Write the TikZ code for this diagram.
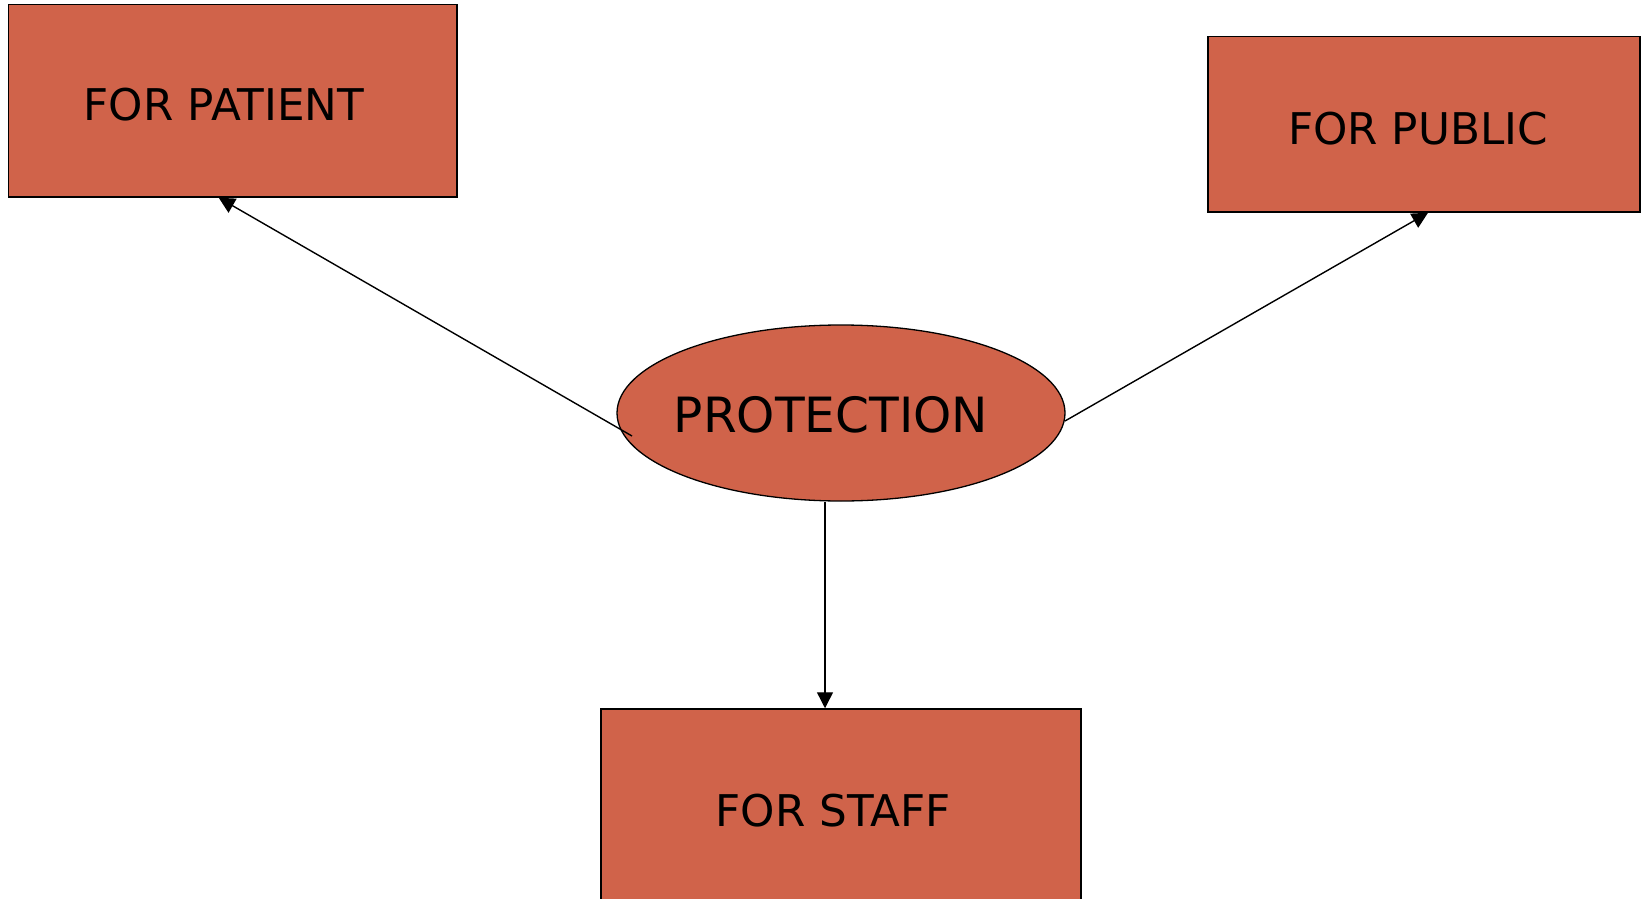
\documentclass[tikz,border=0pt]{standalone}
\usepackage{fontspec}
\setmainfont{DejaVu Sans}
\usetikzlibrary{shapes.geometric,arrows.meta,calc}
\definecolor{boxfill}{RGB}{208,99,74}
\begin{document}
\begin{tikzpicture}[x=1pt,y=-1pt,
  box/.style={draw=black,line width=1.5pt,fill=boxfill,rectangle,inner sep=0pt},
  oval/.style={draw=black,line width=1.3pt,fill=boxfill,ellipse,inner sep=0pt},
  lbl/.style={anchor=base,inner sep=0pt,font=\fontsize{43.7}{50}\selectfont},
  biglbl/.style={anchor=base,inner sep=0pt,font=\fontsize{48.6}{56}\selectfont},
  conn/.style={line width=1.4pt,-{Triangle[length=16pt,width=16pt]}}]
\useasboundingbox (0,0) rectangle (1641,899);
\node[box,minimum width=448.5pt,minimum height=192.5pt] (pat) at (232.75,100.75) {};
\node[box,minimum width=432pt,minimum height=175.3pt] (pub) at (1424,124.35) {};
\node[oval,minimum width=448pt,minimum height=176pt] (prot) at (841,413) {};
\node[box,minimum width=480pt,minimum height=213pt] (staff) at (841,815.5) {};
\node[lbl] (patt) at (224,121) {FOR PATIENT};
\node[lbl] (pubt) at (1418,144) {FOR PUBLIC};
\node[biglbl] (prott) at (831,432) {PROTECTION};
\node[lbl] (stafft) at (833,826) {FOR STAFF};
\coordinate (s1) at (632,436);
\coordinate (s2) at (1065,421);
\coordinate (s3) at ($(prot.south)+(-16,0)$);
\draw[conn] (s1) -- ($(pat.south)+(-14,0)$);
\draw[conn] (s2) -- ($(pub.south)+(4,0)$);
\draw[conn] (s3) -- (s3 |- staff.north);
\end{tikzpicture}
\end{document}
